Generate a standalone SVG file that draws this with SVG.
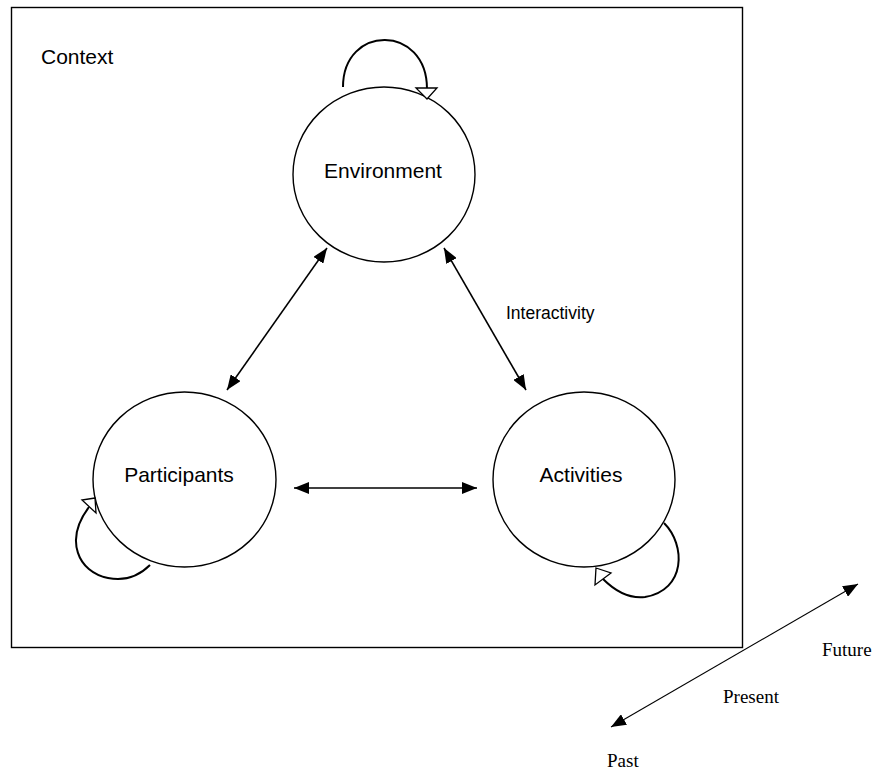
<svg xmlns="http://www.w3.org/2000/svg" width="875" height="771" viewBox="0 0 875 771">
<style>
.node{fill:#fff;stroke:#000;stroke-width:1.4}
.lbl{font-family:"Liberation Sans",Arial,sans-serif;font-size:21px;fill:#000;text-anchor:middle}
.ser{font-family:"Liberation Serif","Times New Roman",serif;font-size:19px;fill:#000}
.conn{fill:none;stroke:#000;stroke-width:1.6}
.loop{fill:none;stroke:#000;stroke-width:2}
.open{fill:#fff;stroke:#000;stroke-width:1.3}
</style>
<defs>
<marker id="ah" viewBox="0 0 15 12" refX="15" refY="6" markerWidth="15" markerHeight="12" markerUnits="userSpaceOnUse" orient="auto-start-reverse">
<path d="M0,0 L15,6 L0,12 Z" fill="#000"/>
</marker>
</defs>
<g id="context">
<rect x="11.5" y="7.5" width="731" height="640" fill="#fff" stroke="#000" stroke-width="1.4"/>
<text x="41" y="64" class="lbl" style="text-anchor:start">Context</text>
</g>
<g id="environment">
<ellipse cx="384" cy="174.5" rx="91" ry="87.5" class="node"/>
<text x="383" y="178" class="lbl">Environment</text>
</g>
<g id="participants">
<ellipse cx="184.5" cy="479.5" rx="91.5" ry="87.5" class="node"/>
<text x="179" y="482" class="lbl">Participants</text>
</g>
<g id="activities">
<ellipse cx="584" cy="479.5" rx="91" ry="87.5" class="node"/>
<text x="581" y="482" class="lbl">Activities</text>
</g>
<g id="connectors">
<path class="loop" d="M343,87 C343,24 427,24 427,89"/>
<polygon class="open" points="416,88 437,88 427,99"/>
<path class="loop" d="M150,565 C135,580 118,580 108,578 C78,572 64,540 89,507"/>
<polygon class="open" points="95,498 82,500 96,513"/>
<path class="loop" d="M664,523 C686,545 686,590 645,597 C628,599 614,590 603,579"/>
<polygon class="open" points="596,568 611,573 595,585"/>
<line class="conn" x1="327" y1="248" x2="227" y2="390" marker-start="url(#ah)" marker-end="url(#ah)"/>
<line class="conn" x1="444" y1="248" x2="526" y2="390" marker-start="url(#ah)" marker-end="url(#ah)"/>
<line class="conn" x1="294" y1="488" x2="477" y2="488" marker-start="url(#ah)" marker-end="url(#ah)"/>
<line x1="858" y1="584" x2="611" y2="727" stroke="#000" stroke-width="1.1" marker-start="url(#ah)" marker-end="url(#ah)"/>
<text x="506" y="319" style="font-family:'Liberation Sans',Arial,sans-serif;font-size:17.5px">Interactivity</text>
</g>
<g id="time">
<text x="822" y="656" class="ser">Future</text>
<text x="723" y="703" class="ser">Present</text>
<text x="607" y="767" class="ser">Past</text>
</g>
</svg>
